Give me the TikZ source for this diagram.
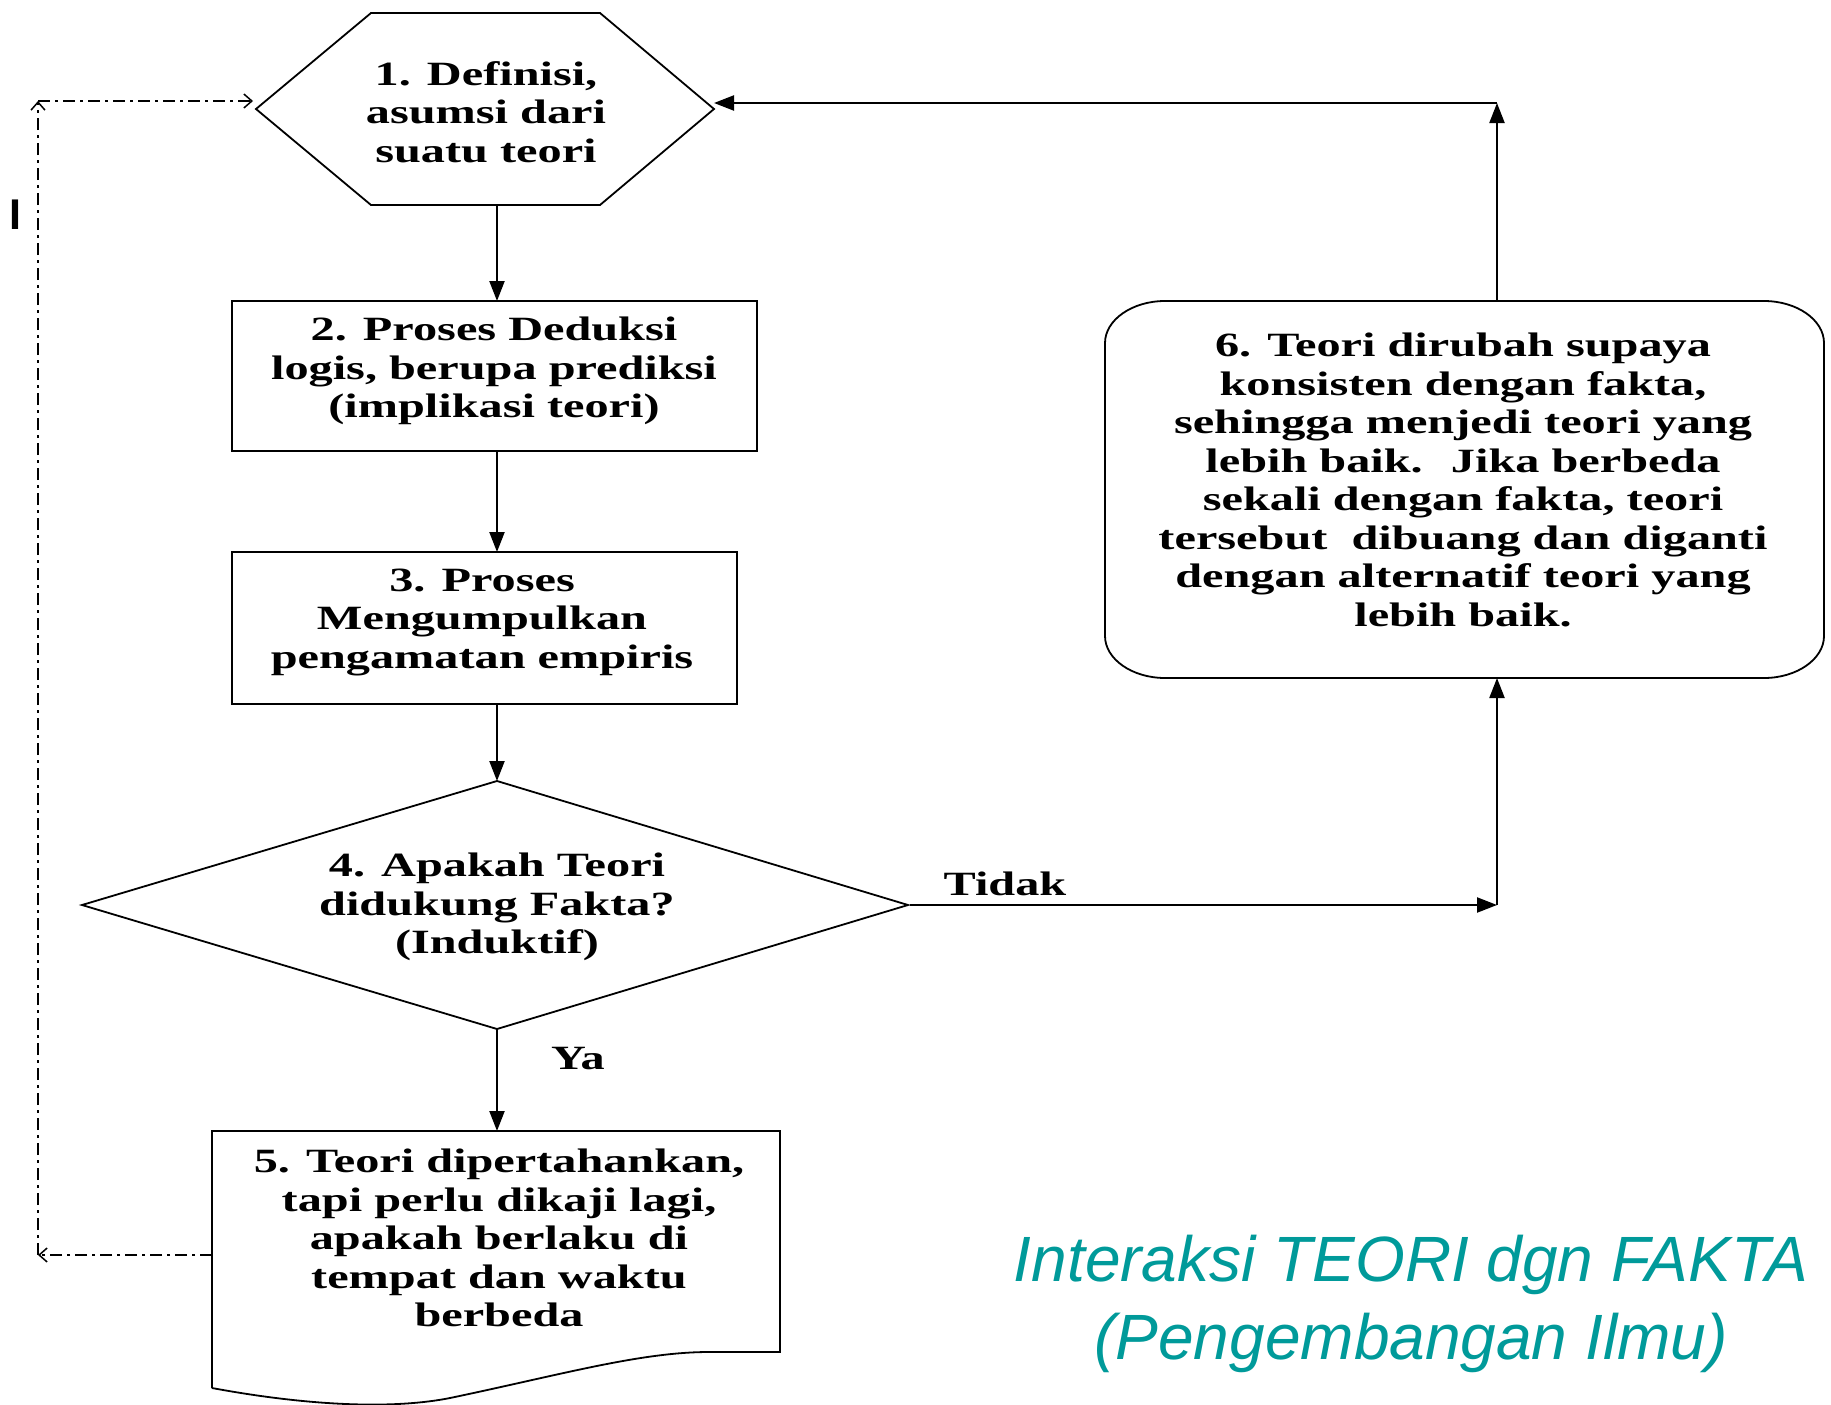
\documentclass[tikz,border=0pt]{standalone}
\usepackage{fontspec}
\usetikzlibrary{arrows.meta}
\newfontfamily\boxfont[FakeStretch=1.42]{Liberation Serif}
\newfontfamily\titlefont{Liberation Sans}
\newcommand\boxtxt{\boxfont\bfseries\fontsize{34}{38.5}\selectfont}
\definecolor{titleteal}{HTML}{009A9A}
\tikzset{
  arr/.style={line width=2.2pt, -{Triangle[length=20pt,width=15pt]}},
  ddarr/.style={line width=1.5pt, dash pattern=on 12pt off 5pt on 3pt off 5pt, -{Straight Barb[length=8pt,width=14pt]}},
  outline/.style={line width=1.8pt, line join=miter},
  holder/.style={inner sep=0pt, outer sep=0pt, draw=none},
  txt/.style={font=\boxtxt, align=center, inner sep=0pt},
}
\begin{document}
\begin{tikzpicture}[x=1pt,y=-1pt]
\useasboundingbox[fill=white] (0,0) rectangle (1831,1405);
% holders (anchors)
\node[holder, minimum width=458pt, minimum height=192pt] (hex) at (485,109) {};
\node[holder, minimum width=525pt, minimum height=150pt] (b2) at (494.5,376) {};
\node[holder, minimum width=505pt, minimum height=152pt] (b3) at (484.5,628) {};
\node[holder, minimum width=826pt, minimum height=248pt] (dia) at (497,905) {};
\node[holder, minimum width=568pt, minimum height=221pt] (b5) at (496,1241.5) {};
\node[holder, minimum width=719pt, minimum height=377pt] (b6) at (1464.5,489.5) {};
% shapes
\draw[outline] (371,13) -- (600,13) -- (714,109) -- (600,205) -- (371,205) -- (256,109) -- cycle;
\draw[outline] (b2.north west) rectangle (b2.south east);
\draw[outline] (b3.north west) rectangle (b3.south east);
\draw[outline] (497,781) -- (908,905) -- (497,1029) -- (82,905) -- cycle;
\draw[outline] (212,1388) -- (212,1131) -- (780,1131) -- (780,1352) -- (709,1352)
  .. controls (640,1352) and (560,1375) .. (450,1398)
  .. controls (400,1408) and (320,1408) .. (212,1388);
\draw[outline] (1165,301) -- (1764,301) .. controls (1797,301) and (1824,320) .. (1824,343)
  -- (1824,636) .. controls (1824,659) and (1797,678) .. (1764,678)
  -- (1165,678) .. controls (1132,678) and (1105,659) .. (1105,636)
  -- (1105,343) .. controls (1105,320) and (1132,301) .. (1165,301) -- cycle;
% texts
\node[txt] (t1) at (486,112) {1. Definisi,\\asumsi dari\\suatu teori};
\node[txt] (t2) at (494,371) {2. Proses Deduksi\\logis, berupa prediksi\\(implikasi teori)};
\node[txt] (t3) at (482,622) {3. Proses\\Mengumpulkan\\pengamatan empiris};
\node[txt] (t4) at (497,907) {4. Apakah Teori\\didukung Fakta?\\(Induktif)};
\node[txt] (t5) at (499,1238) {5. Teori dipertahankan,\\tapi perlu dikaji lagi,\\apakah berlaku di\\tempat dan waktu\\berbeda};
\node[txt] (t6) at (1463,480) {6. Teori dirubah supaya\\konsisten dengan fakta,\\sehingga menjedi teori yang\\lebih baik.~ Jika berbeda\\sekali dengan fakta, teori\\tersebut~ dibuang dan diganti\\dengan alternatif teori yang\\lebih baik.};
\node[txt] (tidak) at (1005,884) {Tidak};
\node[txt] (ya) at (578,1059) {Ya};
% coordinates
\coordinate (col) at (497,0);
\coordinate (rcol) at (1497,0);
\coordinate (rmid) at (1497,905);
\coordinate (rtop) at (1497,103);
\coordinate (lb) at (38,1255);
\coordinate (lt) at (38,101);
% connectors
\draw[arr] (hex.south -| col) -- (b2.north -| col);
\draw[arr] (b2.south -| col) -- (b3.north -| col);
\draw[arr] (b3.south -| col) -- (dia.north -| col);
\draw[arr] (dia.south -| col) -- (b5.north -| col);
\draw[arr] (dia.east) -- (rmid);
\draw[arr] (rmid) -- (b6.south -| rcol);
\draw[arr] (b6.north -| rcol) -- (rtop);
\draw[arr] (rtop) -- (rtop -| hex.east);
\draw[ddarr] (lb -| b5.west) -- (lb);
\draw[ddarr] (lb) -- (lt);
\draw[ddarr] (lt) -- ([xshift=-3pt]lt -| hex.west);
% stray mark and title
\node[font=\titlefont\bfseries\fontsize{43}{43}\selectfont, inner sep=0pt] (bar) at (15,215) {I};
\node[font=\titlefont\itshape\fontsize{64}{78}\selectfont, text=titleteal, align=center, inner sep=0pt] (title) at (1411,1304) {Interaksi TEORI dgn FAKTA\\(Pengembangan Ilmu)};
\end{tikzpicture}
\end{document}
